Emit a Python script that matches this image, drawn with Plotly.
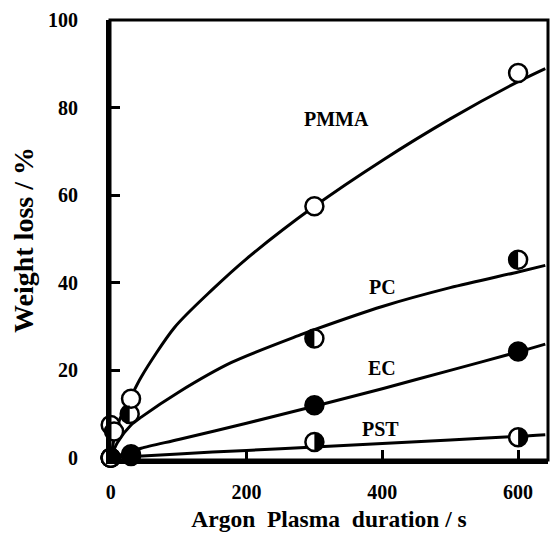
import numpy as np
import plotly.graph_objects as go

# ---- measured data points ----
pmma_x = [0, 5, 30, 300, 600]
pmma_y = [0, 6.0, 13.5, 57.5, 88.0]
pc_x = [0, 0, 28, 300, 600]
pc_y = [0, 7.5, 10.0, 27.3, 45.3]
ec_x = [0, 30, 300, 600]
ec_y = [0, 0.8, 12.0, 24.3]
pst_x = [0, 30, 300, 600]
pst_y = [0, 0.4, 3.6, 4.7]

# ---- fitted curves ----
pmma_cx = [0, 10, 30, 45, 94, 150, 200, 300, 400, 500, 600, 640]
pmma_cy = [0, 7.5, 14.0, 18.5, 29.8, 38.5, 45.5, 57.5, 68.0, 77.5, 86.0, 89.0]
pc_cx = [0, 10, 30, 45, 100, 178, 281, 300, 400, 500, 600, 640]
pc_cy = [0, 3.5, 7.5, 9.3, 15.0, 21.8, 28.2, 29.3, 34.6, 38.9, 42.5, 44.0]
ec_cx = [0, 30, 45, 100, 200, 300, 400, 500, 600, 640]
ec_cy = [0, 1.4, 2.2, 4.2, 7.9, 11.8, 15.8, 20.0, 24.2, 26.0]
pst_cx = [0, 100, 200, 300, 400, 500, 600, 640]
pst_cy = [0, 0.9, 1.7, 2.5, 3.3, 4.1, 4.9, 5.3]

labels = ["PMMA", "PC", "EC", "PST"]
label_x = [332, 401, 400, 398]
label_y = [77.4, 39.0, 20.5, 6.6]

xticks = [0, 200, 400, 600]
yticks = [0, 20, 40, 60, 80, 100]

FONT = "Liberation Serif"
MS = 18
R = 8.6
NB = "\u00a0"

fig = go.Figure()

for cx, cy in [(pmma_cx, pmma_cy), (pc_cx, pc_cy), (ec_cx, ec_cy), (pst_cx, pst_cy)]:
    fig.add_trace(go.Scatter(x=cx, y=cy, mode="lines", line=dict(color="black", width=3, shape="spline", smoothing=0.8),
                             hoverinfo="skip", showlegend=False, cliponaxis=False))

def markers(x, y, fill):
    fig.add_trace(go.Scatter(x=x, y=y, mode="markers", showlegend=False, cliponaxis=False,
                             marker=dict(symbol="circle", size=MS, color=fill,
                                         line=dict(color="black", width=2.5))))

markers(pst_x, pst_y, "white")
markers(ec_x, ec_y, "black")
markers(pc_x, pc_y, "white")
markers(pmma_x, pmma_y, "white")

# half-filled marker shapes (pixel-sized around data anchor)
# side=+1 -> left half filled, side=-1 -> right half filled
def half_path(side):
    th = np.linspace(np.pi / 2, 3 * np.pi / 2, 25)
    xs = side * R * np.cos(th)
    ys = R * np.sin(th)
    pts = " L".join(f"{a:.2f},{b:.2f}" for a, b in zip(xs, ys))
    return "M" + pts + " Z"

shapes = []
for xs, ys, side in [(pc_x, pc_y, 1), (pst_x, pst_y, -1)]:
    for xv, yv in zip(xs, ys):
        shapes.append(dict(type="path", xref="x", yref="y", xsizemode="pixel", ysizemode="pixel",
                           xanchor=xv, yanchor=yv, path=half_path(side),
                           fillcolor="black", line=dict(width=0), layer="above"))
# plot frame
shapes.append(dict(type="rect", xref="paper", yref="paper", x0=0, x1=1, y0=0, y1=1,
                   line=dict(color="black", width=3), layer="above"))
fig.update_layout(shapes=shapes)

for t, xv, yv in zip(labels, label_x, label_y):
    fig.add_annotation(x=xv, y=yv, text=f"<b>{t}</b>", showarrow=False,
                       font=dict(family=FONT, size=20, color="black"))

fig.update_layout(
    width=550, height=535,
    margin=dict(l=110, r=2, t=20, b=75),
    paper_bgcolor="white", plot_bgcolor="white",
    font=dict(family=FONT, color="black"),
    xaxis=dict(range=[-1, 644], tickvals=xticks, ticktext=[f"<b>{v}</b>" for v in xticks],
               ticks="inside", ticklen=10, tickwidth=3, tickcolor="black",
               showline=True, linewidth=4, linecolor="black", showgrid=False, zeroline=False,
               tickfont=dict(family=FONT, size=20), ticklabelstandoff=11,
               title=dict(text="<b>Argon  Plasma  duration / s</b>", font=dict(family=FONT, size=23.5), standoff=10)),
    yaxis=dict(range=[-0.5, 100.1], tickvals=yticks, ticktext=[f"<b>{v}</b>{NB}" for v in yticks],
               ticks="inside", ticklen=10, tickwidth=3, tickcolor="black",
               showline=True, linewidth=4, linecolor="black", showgrid=False, zeroline=False,
               tickfont=dict(family=FONT, size=20), ticklabelstandoff=19,
               title=dict(text="<b>Weight loss / %</b>", font=dict(family=FONT, size=28), standoff=7)),
)

fig.write_html("out.html")
